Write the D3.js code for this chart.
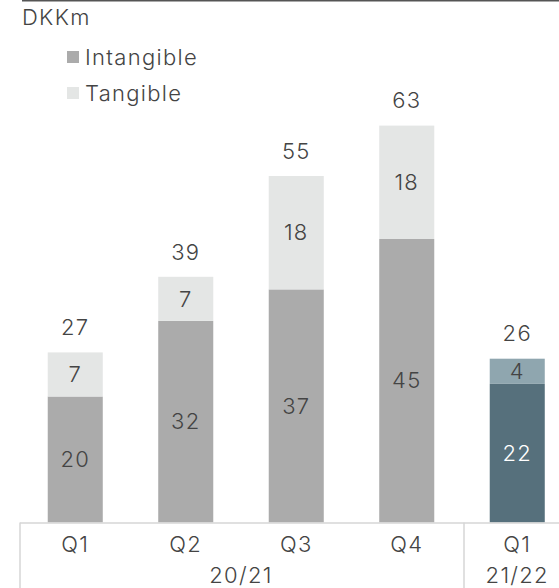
<!DOCTYPE html>
<html>
<head>
<meta charset="utf-8">
<script src="https://cdn.jsdelivr.net/npm/d3@7"></script>
<style>
  html, body { margin: 0; padding: 0; background: #fff; }
  svg { display: block; font-family: Inter, "Noto Sans", sans-serif; font-weight: 300; letter-spacing: 1.3px; }
</style>
</head>
<body>
<svg id="chart" width="559" height="588"></svg>
<script>
// Quarterly capex split, DKKm
const quarters   = ["Q1", "Q2", "Q3", "Q4", "Q1 "];
const tickLabels = ["Q1", "Q2", "Q3", "Q4", "Q1"];
const intangible = [20, 32, 37, 45, 22];
const tangible   = [7, 7, 18, 18, 4];
const totals     = [27, 39, 55, 63, 26];
const years      = [{ label: "20/21", from: 0, to: 3 }, { label: "21/22", from: 4, to: 4 }];

const svg = d3.select("#chart");
const baseY = 522.5;

const x = d3.scaleBand().domain(quarters).range([20, 572.5]).paddingInner(0.502).paddingOuter(0.251);
const y = d3.scaleLinear().domain([0, 63]).range([baseY, baseY - 63 * 6.3]);

const isCurrent = i => i === 4;
const colIntangible = i => isCurrent(i) ? "#56707c" : "#ababab";
const colTangible   = i => isCurrent(i) ? "#8fa6af" : "#e4e6e5";
const textColor = "#444444";
const fs = 22;

// header rule and unit
svg.append("line").attr("x1", 22).attr("x2", 559).attr("y1", 0.75).attr("y2", 0.75)
  .attr("stroke", "#555").attr("stroke-width", 1.5);
svg.append("text").attr("x", 22).attr("y", 25).attr("font-size", fs).attr("fill", textColor).text("DKKm");

// legend
const legend = [{ name: "Intangible", color: "#ababab", y: 65 }, { name: "Tangible", color: "#e4e6e5", y: 101 }];
legend.forEach(d => {
  svg.append("rect").attr("x", 67).attr("y", d.y - 14).attr("width", 12).attr("height", 12).attr("fill", d.color);
  svg.append("text").attr("x", 85).attr("y", d.y).attr("font-size", fs).attr("fill", textColor).text(d.name);
});

const bars = svg.append("g");
quarters.forEach((q, i) => {
  const x0 = x(q), w = x.bandwidth();
  // intangible segment
  bars.append("rect").attr("x", x0).attr("y", y(intangible[i])).attr("width", w)
    .attr("height", y(0) - y(intangible[i])).attr("fill", colIntangible(i));
  // tangible segment stacked on top
  bars.append("rect").attr("x", x0).attr("y", y(intangible[i] + tangible[i])).attr("width", w)
    .attr("height", y(intangible[i]) - y(intangible[i] + tangible[i])).attr("fill", colTangible(i));

  const cx = x0 + w / 2;
  bars.append("text").attr("x", cx).attr("y", (y(0) + y(intangible[i])) / 2).attr("dy", "0.35em")
    .attr("text-anchor", "middle").attr("font-size", fs)
    .attr("fill", isCurrent(i) ? "#ffffff" : textColor).text(intangible[i]);
  bars.append("text").attr("x", cx).attr("y", (y(intangible[i]) + y(intangible[i] + tangible[i])) / 2).attr("dy", "0.35em")
    .attr("text-anchor", "middle").attr("font-size", fs).attr("fill", textColor).text(tangible[i]);
  bars.append("text").attr("x", cx).attr("y", y(totals[i]) - 25).attr("dy", "0.35em")
    .attr("text-anchor", "middle").attr("font-size", fs).attr("fill", textColor).text(totals[i]);
});

// category axis
const axis = svg.append("g").attr("transform", `translate(0,${baseY})`)
  .call(d3.axisBottom(x).tickSize(0).tickPadding(14).tickFormat((d, i) => tickLabels[i]))
  .attr("font-family", null).attr("font-size", null);
axis.select(".domain").remove();
axis.selectAll("text").attr("font-size", fs).attr("fill", textColor).attr("dy", "0.35em").attr("y", 22);

svg.append("line").attr("x1", 20).attr("x2", 559).attr("y1", baseY + 0.5).attr("y2", baseY + 0.5)
  .attr("stroke", "#d6d6d6").attr("stroke-width", 1.5);
[20, 464].forEach(xx => {
  svg.append("line").attr("x1", xx).attr("x2", xx).attr("y1", baseY).attr("y2", 588)
    .attr("stroke", "#d6d6d6").attr("stroke-width", 1.5);
});

// fiscal year labels
years.forEach(yr => {
  const cx = (x(quarters[yr.from]) + x(quarters[yr.to]) + x.bandwidth()) / 2;
  svg.append("text").attr("x", cx).attr("y", 575).attr("dy", "0.35em").attr("text-anchor", "middle")
    .attr("font-size", fs).attr("fill", textColor).text(yr.label);
});
</script>
</body>
</html>
